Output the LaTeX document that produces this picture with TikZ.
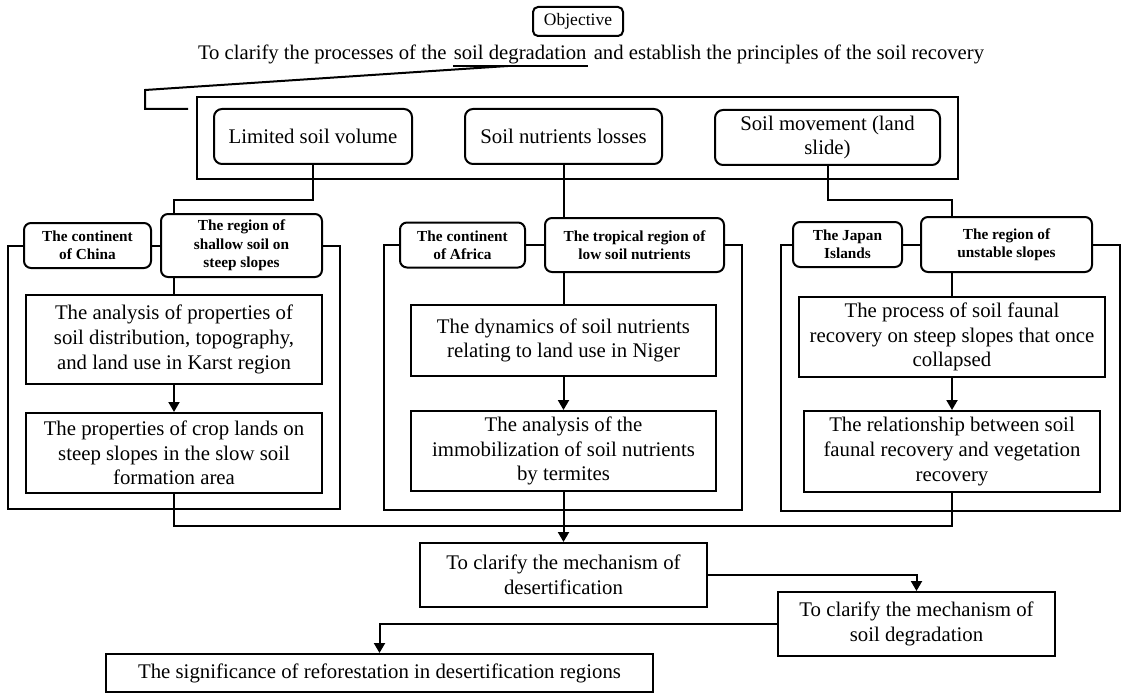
\documentclass[tikz,border=0pt]{standalone}
\usepackage{fontspec}
\setmainfont{Liberation Serif}
\usetikzlibrary{arrows.meta,positioning}

\begin{document}
\begin{tikzpicture}[
  x=1pt, y=-1pt, line width=2pt,
  title/.style={inner sep=0pt, font=\fontsize{20.7}{24}\selectfont},
  topic/.style={draw, rounded corners=8pt, inner sep=2pt, align=center, font=\fontsize{20.8}{24.7}\selectfont},
  area/.style={draw, rounded corners=7pt, inner sep=2pt, align=center, minimum height=45pt, font=\fontsize{15.3}{18.3}\selectfont\bfseries},
  study/.style={draw, inner sep=2pt, align=center, font=\fontsize{20.8}{24.7}\selectfont},
  arr/.style={-{Triangle[length=10pt,width=11pt]}},
  node distance=27pt and 8pt
]
\useasboundingbox (0,0) rectangle (1122,698);

% Objective
\node[draw, rounded corners=5pt, inner sep=0pt, minimum width=90pt, minimum height=29pt, font=\fontsize{17.5}{20}\selectfont] (objective) at (578,21.5) {Objective};
\node[title, anchor=base west] (titleA) at (197,60) {To clarify the processes of the};
\node[title, anchor=base west] (titleB) at ([xshift=5.2pt]titleA.base east) {soil degradation};
\node[title, anchor=base west] (titleC) at ([xshift=5.2pt]titleB.base east) {and establish the principles of the soil recovery};
\draw[line width=1.5pt] ([yshift=-6pt]titleB.base west) -- ([yshift=-6pt]titleB.base east);
\coordinate (callout) at ([xshift=55pt,yshift=-6pt]titleB.base west);
\coordinate (bracket) at (188,109);
\draw (callout) -- (145,90) |- (bracket);

% Issues
\node[draw, inner sep=0pt, minimum width=761pt, minimum height=82pt] (issues) at (577.5,138) {};
\node[topic, minimum width=198pt, minimum height=55pt] (limited) at (313,136.5) {Limited soil volume};
\node[topic, minimum width=197pt, minimum height=55pt] (nutrients) at (563.5,136.5) {Soil nutrients losses};
\node[topic, minimum width=225pt, minimum height=55pt] (movement) at (827.5,137.5) {Soil movement (land\\slide)};

% Regions
\node[area, minimum width=161pt, minimum height=63pt] (shallow) at (241.5,245.5) {The region of\\shallow soil on\\steep slopes};
\node[area, minimum width=127pt, left=8pt of shallow] (chinaC) {The continent\\of China};
\node[area, minimum width=179pt, minimum height=54pt] (tropical) at (634.5,245) {The tropical region of\\low soil nutrients};
\node[area, minimum width=125pt, left=18pt of tropical] (africaC) {The continent\\of Africa};
\node[area, minimum width=171pt, minimum height=55pt] (unstable) at (1006.5,244.5) {The region of\\unstable slopes};
\node[area, minimum width=109pt, left=17pt of unstable] (japanC) {The Japan\\Islands};

% Studies
\node[study, minimum width=296pt, minimum height=89pt] (analysis) at (174,339.5) {The analysis of properties of\\soil distribution, topography,\\and land use in Karst region};
\node[study, minimum width=296pt, minimum height=80pt, below=27pt of analysis] (props) {The properties of crop lands on\\steep slopes in the slow soil\\formation area};
\node[study, minimum width=305pt, minimum height=71pt] (dynamics) at (563.5,340.5) {The dynamics of soil nutrients\\relating to land use in Niger};
\node[study, minimum width=305pt, minimum height=80pt, below=33pt of dynamics] (immob) {The analysis of the\\immobilization of soil nutrients\\by termites};
\node[study, minimum width=306pt, minimum height=80pt] (process) at (952,337) {The process of soil faunal\\recovery on steep slopes that once\\collapsed};
\node[study, minimum width=296pt, minimum height=81pt, below=32pt of process] (relation) {The relationship between soil\\faunal recovery and vegetation\\recovery};

% Results
\node[study, minimum width=287pt, minimum height=64pt] (desert) at (563.5,575) {To clarify the mechanism of\\desertification};
\node[study, minimum width=277pt, minimum height=64pt] (soildeg) at (916.5,624) {To clarify the mechanism of\\soil degradation};
\node[study, minimum width=547pt, minimum height=38pt] (signif) at (379.5,673) {The significance of reforestation in desertification regions};

% Frames
\draw (chinaC.west) -| (8,509) -| (340,245.5) -- (shallow.east);
\draw (chinaC) -- (shallow);
\draw (africaC.west) -| (384,510) -| (742,245) -- (tropical.east);
\draw (africaC) -- (tropical);
\draw (japanC.west) -| (781,511) -| (1120,244.5) -- (unstable.east);
\draw (japanC) -- (unstable);

% Links
\draw (limited.south) -- ++(0,35) -| (shallow.north -| analysis.north);
\draw (shallow.south -| analysis.north) -- (analysis.north);
\draw (nutrients.south) -- (nutrients.south |- tropical.north);
\draw (tropical.south -| dynamics.north) -- (dynamics.north);
\draw (movement.south) -- ++(0,34) -| (unstable.north -| process.north);
\draw (unstable.south -| process.north) -- (process.north);
\draw[arr] (analysis) -- (props);
\draw[arr] (dynamics) -- (immob);
\draw[arr] (process) -- (relation);
\draw (props.south) -- ++(0,32) -| (relation.south);
\draw[arr] (immob.south) -- (desert.north);
\draw[arr] (desert.east) -| (soildeg.north);
\draw[arr] (soildeg.west) -| (signif.north);
\end{tikzpicture}
\end{document}
